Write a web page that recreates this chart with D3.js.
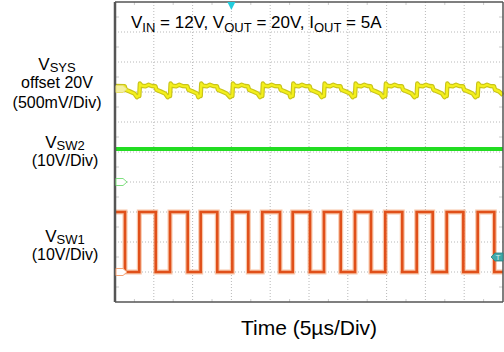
<!DOCTYPE html>
<html>
<head>
<meta charset="utf-8">
<script src="https://cdn.jsdelivr.net/npm/d3@7"></script>
<style>
  body { margin: 0; background: #fff; }
  svg { display: block; font-family: "Liberation Sans", Arial, sans-serif; }
</style>
</head>
<body>
<div id="chart"></div>
<script>
// time axis (µs), 5 µs/div, 10 divisions
var timeTicks = [0, 5, 10, 15, 20, 25, 30, 35, 40, 45, 50];
var divTicks = [-5, -4, -3, -2, -1, 0, 1, 2, 3, 4, 5];

// V_SW1 edges (µs)
var sw1Fall = [1.29, 5.25, 9.37, 13.18, 17.18, 21.26, 25.13, 29.09, 32.99, 37.02, 40.94, 44.89, 48.88];
var sw1Rise = [3.13, 7.09, 11.04, 15.12, 18.98, 22.90, 26.93, 30.93, 34.83, 38.88, 42.75, 46.74];
var sw1High = 20;   // V
var sw1Low = 0;     // V
var sw2Level = 11;  // V, flat

// V_SYS ripple (mV around 20 V), shape inside each period
var vsysAfterRise = [[0.00, -115], [0.08, 90], [0.30, 55], [0.80, 45], [1.20, 70], [1.60, 50]];
var vsysAfterFall = [[-0.05, 45], [0.10, -15], [0.60, -40], [1.20, -75]];
var vsysBeforeRise = [[-0.30, -135], [-0.10, -110]];

var width = 504, height = 352;
var plot = {left: 115, right: 503, top: 2, bottom: 302};

var svg = d3.select("#chart").append("svg")
    .attr("width", width)
    .attr("height", height);

var x = d3.scaleLinear().domain([0, 50]).range([plot.left, plot.right]);
var yDiv = d3.scaleLinear().domain([-5, 5]).range([plot.bottom, plot.top]);

// channel settings: ground position in divisions, volts per div
var ySys = function(mv) { return yDiv(2.1 + mv / 500); };
var ySw2 = function(v) { return yDiv(-1 + v / 10); };
var ySw1 = function(v) { return yDiv(-4 + v / 10); };

// grid
var grid = svg.append("g");
grid.selectAll("line.gx")
    .data(timeTicks.slice(1, -1))
    .enter().append("line")
    .attr("x1", d => x(d)).attr("x2", d => x(d))
    .attr("y1", plot.top).attr("y2", plot.bottom)
    .attr("stroke", "#b8b8b8").attr("stroke-width", 1)
    .attr("stroke-dasharray", "1,2");
grid.selectAll("line.gy")
    .data(divTicks.slice(1, -1))
    .enter().append("line")
    .attr("y1", d => yDiv(d)).attr("y2", d => yDiv(d))
    .attr("x1", plot.left).attr("x2", plot.right)
    .attr("stroke", "#b8b8b8").attr("stroke-width", 1)
    .attr("stroke-dasharray", "1,2");

// half-division ticks along the frame
var halfT = d3.range(2.5, 50, 5);
var halfD = d3.range(-4.5, 5, 1);
halfT.forEach(function(t) {
  grid.append("line").attr("x1", x(t)).attr("x2", x(t))
      .attr("y1", plot.bottom - 3).attr("y2", plot.bottom).attr("stroke", "#ccc");
  grid.append("line").attr("x1", x(t)).attr("x2", x(t))
      .attr("y1", plot.top).attr("y2", plot.top + 3).attr("stroke", "#ccc");
});
halfD.forEach(function(d) {
  grid.append("line").attr("y1", yDiv(d)).attr("y2", yDiv(d))
      .attr("x1", plot.left).attr("x2", plot.left + 4).attr("stroke", "#ccc");
  grid.append("line").attr("y1", yDiv(d)).attr("y2", yDiv(d))
      .attr("x1", plot.right - 4).attr("x2", plot.right).attr("stroke", "#ccc");
});

// V_SYS points
var sysPts = [[0, 50]];
vsysAfterFall.forEach(function(p) { sysPts.push([sw1Fall[0] + p[0], p[1]]); });
sw1Rise.forEach(function(r, i) {
  vsysBeforeRise.forEach(function(p) { sysPts.push([r + p[0], p[1]]); });
  vsysAfterRise.forEach(function(p) { sysPts.push([r + p[0], p[1]]); });
  var f = sw1Fall[i + 1];
  vsysAfterFall.forEach(function(p) { sysPts.push([f + p[0], p[1]]); });
});
sysPts.push([50, -100]);
sysPts = sysPts.filter(p => p[0] >= 0 && p[0] <= 50);

// V_SW1 points
var events = sw1Fall.map(t => [t, "f"]).concat(sw1Rise.map(t => [t, "r"]))
    .sort((a, b) => a[0] - b[0]);
var sw1Pts = [[0, sw1High]];
events.forEach(function(e) {
  if (e[1] === "f") { sw1Pts.push([e[0], sw1High]); sw1Pts.push([e[0], sw1Low]); }
  else { sw1Pts.push([e[0], sw1Low]); sw1Pts.push([e[0], sw1High]); }
});
sw1Pts.push([50, sw1Low]);

var lineSys = d3.line().x(d => x(d[0])).y(d => ySys(d[1]));
var lineSw1 = d3.line().x(d => x(d[0])).y(d => ySw1(d[1]));

// traces
svg.append("path").attr("d", lineSys(sysPts))
    .attr("fill", "none").attr("stroke", "#c9c41a").attr("stroke-width", 4.5)
    .attr("stroke-linejoin", "round");
svg.append("path").attr("d", lineSys(sysPts))
    .attr("fill", "none").attr("stroke", "#f4f01c").attr("stroke-width", 2.2)
    .attr("stroke-linejoin", "round");

svg.append("line")
    .attr("x1", x(0)).attr("x2", x(50))
    .attr("y1", ySw2(sw2Level)).attr("y2", ySw2(sw2Level))
    .attr("stroke", "#22dd22").attr("stroke-width", 4);

svg.append("path").attr("d", lineSw1(sw1Pts))
    .attr("fill", "none").attr("stroke", "#f3a070").attr("stroke-width", 5)
    .attr("stroke-opacity", 0.6);
svg.append("path").attr("d", lineSw1(sw1Pts))
    .attr("fill", "none").attr("stroke", "#e0501a").attr("stroke-width", 2.6);

// frame
svg.append("line").attr("x1", plot.left).attr("x2", plot.right)
    .attr("y1", plot.top).attr("y2", plot.top).attr("stroke", "#555").attr("stroke-width", 1.5);
svg.append("line").attr("x1", plot.left).attr("x2", plot.right)
    .attr("y1", plot.bottom).attr("y2", plot.bottom).attr("stroke", "#555").attr("stroke-width", 1.5);
svg.append("line").attr("x1", plot.right).attr("x2", plot.right)
    .attr("y1", plot.top).attr("y2", plot.bottom).attr("stroke", "#555").attr("stroke-width", 1.5);
svg.append("line").attr("x1", plot.left).attr("x2", plot.left)
    .attr("y1", plot.top).attr("y2", plot.bottom).attr("stroke", "#555").attr("stroke-width", 2.5);

// channel ground markers
function tag(y, stroke, fill) {
  svg.append("path")
      .attr("d", "M" + (plot.left + 1) + "," + (y - 3.5) + "h7l4,3.5l-4,3.5h-7z")
      .attr("fill", fill).attr("stroke", stroke).attr("stroke-width", 1);
}
tag(ySys(0), "#e8e070", "#f4f0a0");
tag(ySw2(0), "#80e080", "#fff");
tag(ySw1(0), "#f4a478", "#fff");

// trigger markers
svg.append("path")
    .attr("d", "M" + (x(15) - 4) + "," + plot.top + "h8l-4,8z")
    .attr("fill", "#22ccdd");
var ty = ySw1(5);
svg.append("path")
    .attr("d", "M" + (plot.right) + "," + (ty - 4) + "h-8l-4,4l4,4h8z")
    .attr("fill", "#40a8a8").attr("stroke", "#2a8080").attr("stroke-width", 0.8);
svg.append("text").attr("x", plot.right - 5).attr("y", ty + 3)
    .attr("text-anchor", "middle").style("font-size", "8px").attr("fill", "#d8f0f0").text("T");

// conditions
var cond = svg.append("text").attr("x", 131).attr("y", 28)
    .style("font-size", "17px").attr("fill", "#000");
cond.append("tspan").text("V");
cond.append("tspan").attr("dy", 4).style("font-size", "13px").text("IN");
cond.append("tspan").attr("dy", -4).text(" = 12V, V");
cond.append("tspan").attr("dy", 4).style("font-size", "13px").text("OUT");
cond.append("tspan").attr("dy", -4).text(" = 20V, I");
cond.append("tspan").attr("dy", 4).style("font-size", "13px").text("OUT");
cond.append("tspan").attr("dy", -4).text(" = 5A");

// channel labels
function label(cx, y, s, lines) {
  var t = svg.append("text").attr("x", cx).attr("y", y)
      .attr("text-anchor", "middle").style("font-size", "17px");
  t.append("tspan").text("V");
  t.append("tspan").attr("dy", 2).style("font-size", "13px").text(s);
  lines.forEach(function(l, i) {
    svg.append("text").attr("x", cx).attr("y", y + 18 + 20 * i)
        .attr("text-anchor", "middle").style("font-size", "16px").text(l);
  });
}
label(57, 70, "SYS", ["offset 20V", "(500mV/Div)"]);
label(65, 148, "SW2", ["(10V/Div)"]);
label(65, 242, "SW1", ["(10V/Div)"]);

// x title
svg.append("text").attr("x", (plot.left + plot.right) / 2).attr("y", 335)
    .attr("text-anchor", "middle").style("font-size", "21px")
    .text("Time (5\u00b5s/Div)");
</script>
</body>
</html>
